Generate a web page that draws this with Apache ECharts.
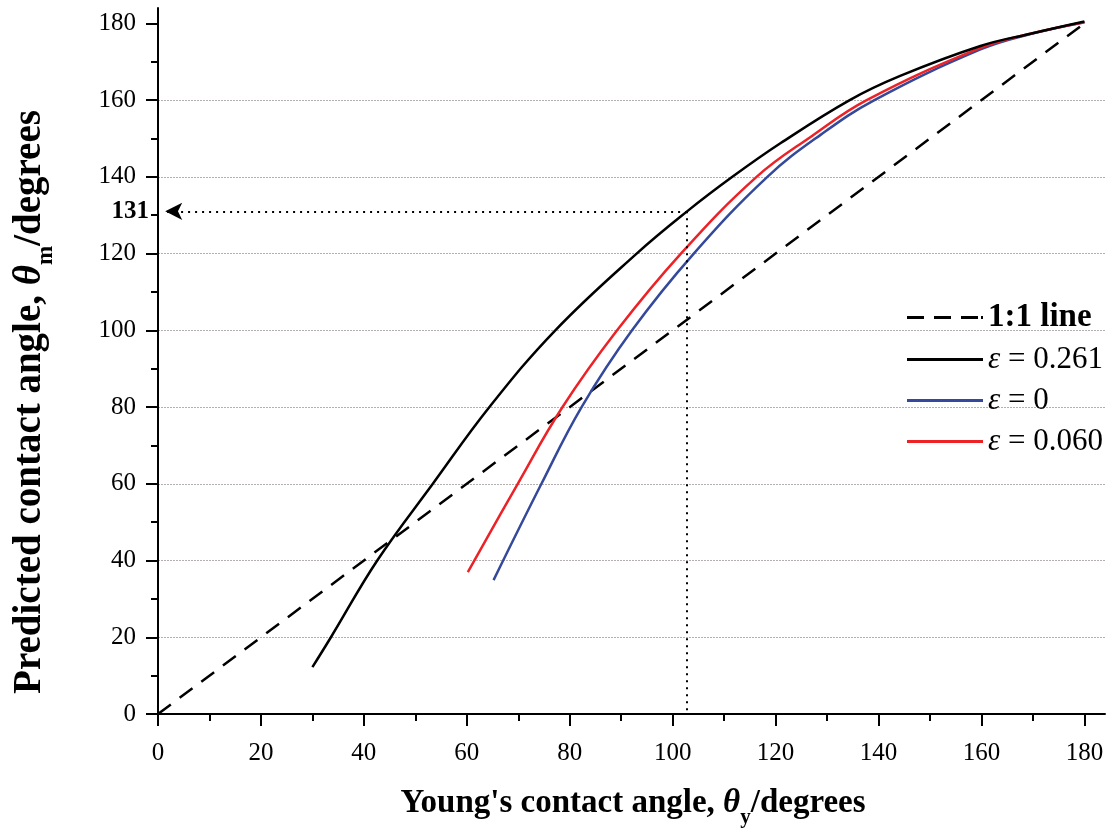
<!DOCTYPE html>
<html>
<head>
<meta charset="utf-8">
<script src="https://cdn.jsdelivr.net/npm/echarts@6/dist/echarts.min.js"></script>
<style>html,body{margin:0;padding:0;background:#fff;}#c{width:1114px;height:832px;}</style>
</head>
<body>
<div id="c"></div>
<script>
// ---- data ----
const majorTicks = [0, 20, 40, 60, 80, 100, 120, 140, 160, 180];
const minorTicks = [10, 30, 50, 70, 90, 110, 130, 150, 170];
const markedValue = 131;
const markedX = 102.8;
const seriesNames = ['1:1 line', 'ε = 0.261', 'ε = 0', 'ε = 0.060'];
const oneToOne = [[0, 0], [180, 180]];
const eps0261 = [[30, 12.2], [33.6, 20], [42.6, 40], [53.4, 60], [64.4, 80], [77.2, 100], [93, 120], [102.8, 131], [111.6, 140], [121, 148.8], [134.4, 160], [144.2, 166.3], [159.8, 174.1], [169.5, 177.3], [180, 180.5]];
const eps0 = [[65.2, 34.9], [74.5, 60], [82.3, 80], [92.1, 100], [104.1, 120], [118.4, 140], [128.8, 151], [139.2, 160], [159.8, 173.2], [169.5, 177.2], [180, 180.3]];
const eps0060 = [[60.2, 37], [69.9, 60], [78.6, 80], [89.2, 100], [101.6, 120], [116.3, 140], [127, 150.6], [137.7, 160], [159.8, 173.6], [169.5, 177.3], [180, 180.3]];

const serif = '"Liberation Serif", "Times New Roman", serif';
const chart = echarts.init(document.getElementById('c'), null, {renderer: 'canvas'});

const baseAxis = {type: 'value', min: 0, max: 184, interval: 20};
const solidIcon = 'path://M0,0H76V3H0Z';
const dashIcon = 'path://M0,0H17V3H0Z M27,0H44V3H27Z M54,0H71V3H54Z M74,0H76V3H74Z';
const legendFont = 31;

chart.setOption({
  animation: false,
  backgroundColor: '#ffffff',
  grid: {left: 158, top: 8, right: 9, bottom: 118, containLabel: false, outerBoundsMode: 'none'},
  xAxis: [
    Object.assign({}, baseAxis, {
      position: 'bottom',
      axisLine: {show: true, lineStyle: {color: '#000', width: 2}},
      axisTick: {show: true, customValues: majorTicks, length: 12, lineStyle: {color: '#000', width: 2}},
      axisLabel: {customValues: majorTicks, margin: 27, color: '#000', fontFamily: serif, fontSize: 25},
      splitLine: {show: false}
    }),
    Object.assign({}, baseAxis, {
      position: 'bottom',
      axisLine: {show: false},
      axisTick: {show: true, customValues: minorTicks, length: 7, lineStyle: {color: '#000', width: 2}},
      axisLabel: {show: false},
      splitLine: {show: false}
    })
  ],
  yAxis: [
    Object.assign({}, baseAxis, {
      position: 'left',
      axisLine: {show: true, lineStyle: {color: '#000', width: 2}},
      axisTick: {show: true, customValues: majorTicks, length: 12, lineStyle: {color: '#000', width: 2}},
      axisLabel: {customValues: majorTicks, margin: 22, color: '#000', fontFamily: serif, fontSize: 25},
      splitLine: {show: true, showMinLine: false, showMaxLine: false, lineStyle: {color: '#b5b0b0', width: 1, type: [2, 1]}}
    }),
    Object.assign({}, baseAxis, {
      position: 'left',
      axisLine: {show: false},
      axisTick: {show: true, customValues: minorTicks, length: 7, lineStyle: {color: '#000', width: 2}},
      axisLabel: {customValues: [markedValue], margin: 9, color: '#000', fontFamily: serif, fontSize: 25, fontWeight: 'bold'},
      splitLine: {show: false}
    })
  ],
  legend: {
    orient: 'vertical', left: 907, top: 301, padding: 0,
    itemWidth: 76, itemHeight: 3, itemGap: 10,
    data: [
      {name: seriesNames[0], icon: dashIcon},
      {name: seriesNames[1], icon: solidIcon},
      {name: seriesNames[2], icon: solidIcon},
      {name: seriesNames[3], icon: solidIcon}
    ],
    formatter: function (name) {
      if (name.charAt(0) === 'ε') return '{e|ε}{n|' + name.slice(1) + '}';
      return '{b|' + name + '}';
    },
    textStyle: {
      fontFamily: serif, fontSize: legendFont, color: '#000',
      rich: {
        e: {fontFamily: serif, fontSize: legendFont, fontStyle: 'italic', color: '#000', lineHeight: 30},
        n: {fontFamily: serif, fontSize: legendFont, color: '#000', lineHeight: 30},
        b: {fontFamily: serif, fontSize: 33, fontWeight: 'bold', color: '#000', lineHeight: 30}
      }
    }
  },
  series: [
    {
      name: seriesNames[0], type: 'line', data: oneToOne, showSymbol: false, symbol: 'none',
      lineStyle: {color: '#000', width: 2.5, type: [16, 11]}, itemStyle: {color: '#000'}, z: 2,
      markLine: {
        silent: true, symbol: ['none', 'none'], animation: false,
        label: {show: false},
        lineStyle: {color: '#000', width: 2, type: [2, 5]},
        data: [
          [{coord: [markedX, markedValue], symbol: 'none'}, {coord: [1.4, markedValue], symbol: 'arrow', symbolSize: [13, 17]}],
          [{coord: [markedX, markedValue], symbol: 'none'}, {coord: [markedX, 0], symbol: 'none'}]
        ]
      }
    },
    {
      name: seriesNames[2], type: 'line', data: eps0, showSymbol: false, symbol: 'none', smooth: 0.4,
      lineStyle: {color: '#34499b', width: 2.5}, itemStyle: {color: '#34499b'}, z: 3
    },
    {
      name: seriesNames[3], type: 'line', data: eps0060, showSymbol: false, symbol: 'none', smooth: 0.4,
      lineStyle: {color: '#ec2227', width: 2.5}, itemStyle: {color: '#ec2227'}, z: 4
    },
    {
      name: seriesNames[1], type: 'line', data: eps0261, showSymbol: false, symbol: 'none', smooth: 0.4,
      lineStyle: {color: '#000', width: 2.5}, itemStyle: {color: '#000'}, z: 5
    }
  ],
  graphic: [
    {
      type: 'text', x: 633, y: 803,
      style: {
        text: "{b|Young's contact angle, }{t|θ}{s|y}{b|/degrees}",
        align: 'center', verticalAlign: 'middle',
        rich: {
          b: {fontFamily: serif, fontSize: 33, fontWeight: 'bold', fill: '#000', lineHeight: 40},
          t: {fontFamily: serif, fontSize: 33, fontWeight: 'bold', fontStyle: 'italic', fill: '#000', lineHeight: 40},
          s: {fontFamily: serif, fontSize: 21, fontWeight: 'bold', fill: '#000', lineHeight: 20, padding: [30, 0, 0, 0]}
        }
      }
    },
    {
      type: 'text', x: 30, y: 402, rotation: Math.PI / 2,
      style: {
        text: "{b|Predicted contact angle, }{t|θ}{s|m}{b|/degrees}",
        align: 'center', verticalAlign: 'middle',
        rich: {
          b: {fontFamily: serif, fontSize: 39, fontWeight: 'bold', fill: '#000', lineHeight: 44},
          t: {fontFamily: serif, fontSize: 39, fontWeight: 'bold', fontStyle: 'italic', fill: '#000', lineHeight: 44},
          s: {fontFamily: serif, fontSize: 23, fontWeight: 'bold', fill: '#000', lineHeight: 22, padding: [32, 0, 0, 0]}
        }
      }
    }
  ]
});
</script>
</body>
</html>
